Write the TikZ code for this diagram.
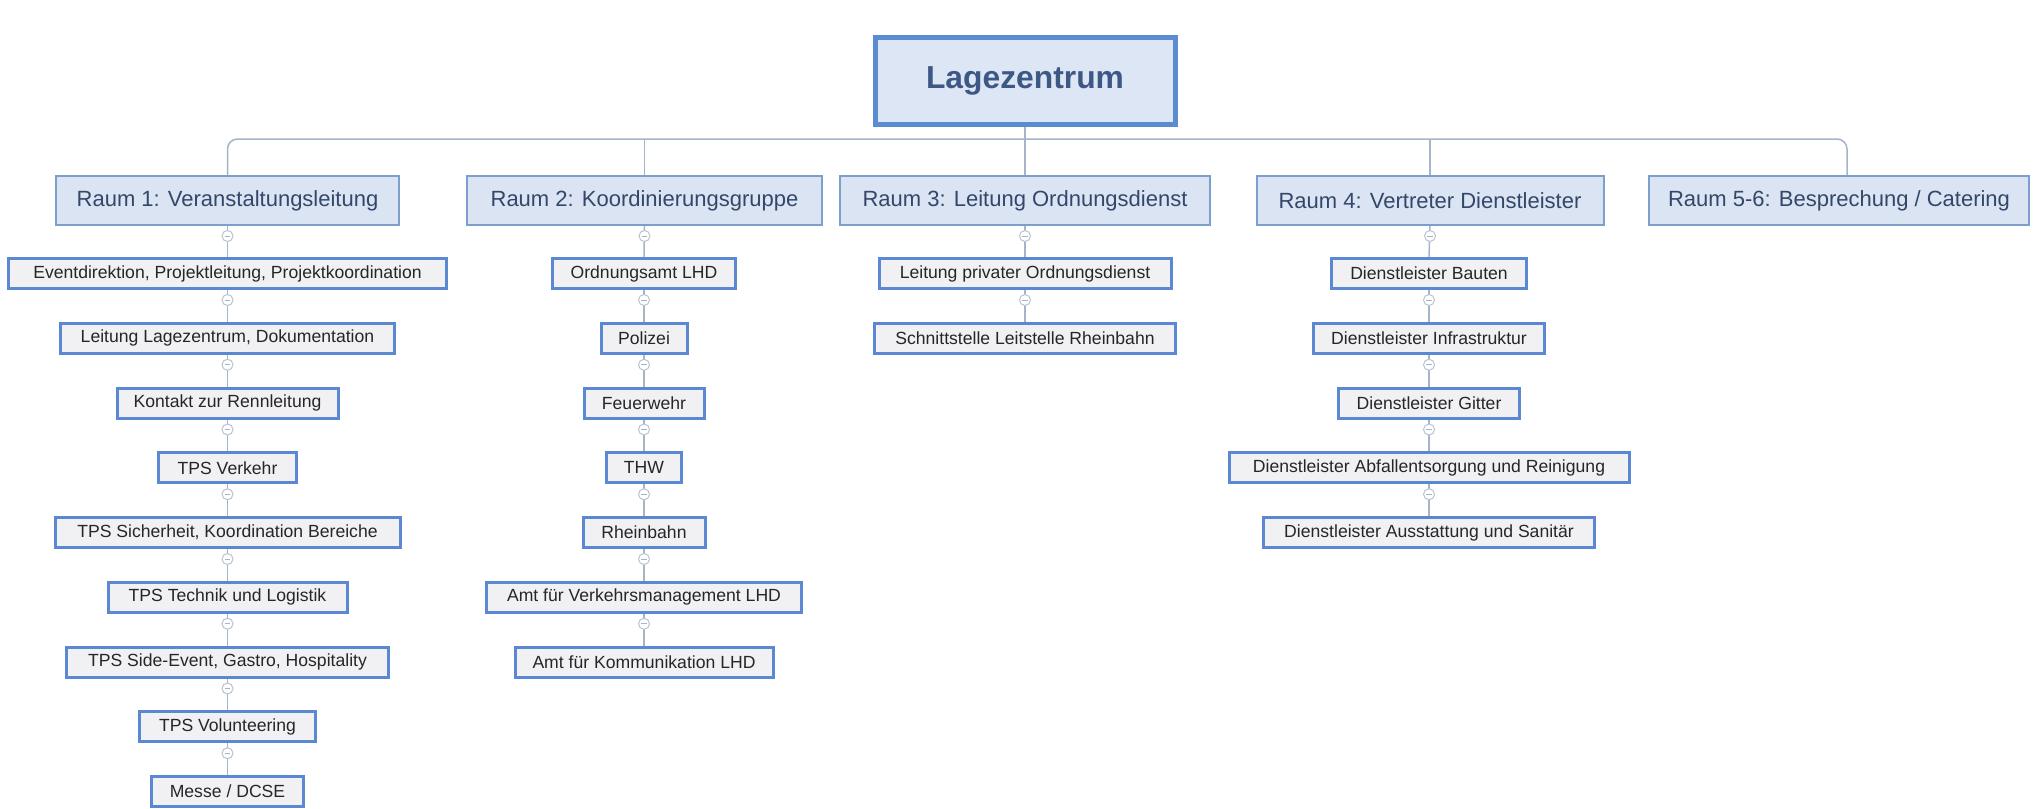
\documentclass[tikz,border=0pt]{standalone}
\usepackage{fontspec}
\setmainfont{Liberation Sans}
\definecolor{topfill}{HTML}{DCE6F5}
\definecolor{topborder}{HTML}{5B8BD1}
\definecolor{topText}{HTML}{3E5886}
\definecolor{roomfill}{HTML}{DAE4F3}
\definecolor{roomborder}{HTML}{7D9FCC}
\definecolor{roomText}{HTML}{34476A}
\definecolor{childfill}{HTML}{F1F1F3}
\definecolor{childborder}{HTML}{5A88D2}
\definecolor{connColor}{HTML}{A6B4C8}
\newcommand\link[2]{%
  \draw[conn] (#1.south) -- (#2.north);
  \node[collapse] (k-#1) at ([yshift=-5pt]#1.south) {};
}
\begin{document}
\begin{tikzpicture}[x=0.5pt,y=-0.5pt,
  topbox/.style={draw=topborder, line width=2.5pt, fill=topfill, inner sep=0pt,
    minimum width=150pt, minimum height=43.5pt,
    font=\fontsize{15.9}{18}\selectfont\bfseries, text=topText},
  roombox/.style={draw=roomborder, line width=1pt, fill=roomfill, inner sep=0pt,
    minimum height=24.5pt, font=\fontsize{11}{13}\selectfont, text=roomText},
  childbox/.style={draw=childborder, line width=1.5pt, fill=childfill, inner sep=0pt,
    minimum height=15pt, font=\fontsize{8.8}{10}\selectfont, text=black!85},
  conn/.style={draw=connColor, line width=0.75pt},
  collapse/.style={circle, draw=connColor!80, line width=0.5pt, fill=white,
    inner sep=0pt, minimum size=5.5pt,
    path picture={\draw[connColor, line width=0.4pt]
      ([xshift=-1.3pt]path picture bounding box.center) --
      ([xshift=1.3pt]path picture bounding box.center);}},
]
\useasboundingbox[fill=white] (0,0) rectangle (2033,808);

% top
\node[topbox] (top) at (1025,81) {Lagezentrum};

% rooms
\node[roombox, minimum width=171.5pt] (R1) at (227.5,200.5) {Raum 1: Veranstaltungsleitung};
\node[roombox, minimum width=177.5pt] (R2) at (644.5,200.5) {Raum 2: Koordinierungsgruppe};
\node[roombox, minimum width=185pt] (R3) at (1025,200.5) {Raum 3: Leitung Ordnungsdienst};
\node[roombox, minimum width=173.5pt] (R4) at (1430,200.5) {Raum 4: Vertreter Dienstleister};
\node[roombox, minimum width=190pt] (R5) at (1839,200.5) {Raum 5-6: Besprechung / Catering};

\coordinate (bus) at (1025,139);
\draw[conn, rounded corners=5pt] (R1.north) |- (bus) -| ([xshift=4pt]R5.north);
\draw[conn] (top.south) -- (R3.north);
\draw[conn] (R2.north) -- (R2.north |- bus);
\draw[conn] (R4.north) -- (R4.north |- bus);

% column 1
\node[childbox, minimum width=219pt] (a1) at (227.5,273.5) {Eventdirektion, Projektleitung, Projektkoordination};
\node[childbox, minimum width=167pt] (a2) at (227.5,338.25) {Leitung Lagezentrum, Dokumentation};
\node[childbox, minimum width=110.5pt] (a3) at (227.5,403) {Kontakt zur Rennleitung};
\node[childbox, minimum width=69pt] (a4) at (227.5,467.75) {TPS Verkehr};
\node[childbox, minimum width=172.5pt] (a5) at (227.5,532.5) {TPS Sicherheit, Koordination Bereiche};
\node[childbox, minimum width=119.5pt] (a6) at (227.5,597.25) {TPS Technik und Logistik};
\node[childbox, minimum width=161pt] (a7) at (227.5,662) {TPS Side-Event, Gastro, Hospitality};
\node[childbox, minimum width=88pt] (a8) at (227.5,726.75) {TPS Volunteering};
\node[childbox, minimum width=76pt] (a9) at (227.5,791) {Messe / DCSE};

% column 2
\node[childbox, minimum width=91.5pt] (b1) at (644,273.5) {Ordnungsamt LHD};
\node[childbox, minimum width=43pt] (b2) at (644,338.25) {Polizei};
\node[childbox, minimum width=60pt] (b3) at (644,403) {Feuerwehr};
\node[childbox, minimum width=37.5pt] (b4) at (644,467.75) {THW};
\node[childbox, minimum width=61pt] (b5) at (644,532.5) {Rheinbahn};
\node[childbox, minimum width=157.5pt] (b6) at (644,597.25) {Amt für Verkehrsmanagement LHD};
\node[childbox, minimum width=129pt] (b7) at (644,662) {Amt für Kommunikation LHD};

% column 3
\node[childbox, minimum width=146pt] (c1) at (1025,273.5) {Leitung privater Ordnungsdienst};
\node[childbox, minimum width=150.5pt] (c2) at (1025,338.25) {Schnittstelle Leitstelle Rheinbahn};

% column 4
\node[childbox, minimum width=97.5pt] (d1) at (1429,273.5) {Dienstleister Bauten};
\node[childbox, minimum width=115.5pt] (d2) at (1429,338.25) {Dienstleister Infrastruktur};
\node[childbox, minimum width=90.5pt] (d3) at (1429,403) {Dienstleister Gitter};
\node[childbox, minimum width=200pt] (d4) at (1429,467.75) {Dienstleister Abfallentsorgung und Reinigung};
\node[childbox, minimum width=165.5pt] (d5) at (1429,532.5) {Dienstleister Ausstattung und Sanitär};

% links
\link{R1}{a1}\link{a1}{a2}\link{a2}{a3}\link{a3}{a4}\link{a4}{a5}
\link{a5}{a6}\link{a6}{a7}\link{a7}{a8}\link{a8}{a9}
\link{R2}{b1}\link{b1}{b2}\link{b2}{b3}\link{b3}{b4}\link{b4}{b5}
\link{b5}{b6}\link{b6}{b7}
\link{R3}{c1}\link{c1}{c2}
\link{R4}{d1}\link{d1}{d2}\link{d2}{d3}\link{d3}{d4}\link{d4}{d5}
\end{tikzpicture}
\end{document}
